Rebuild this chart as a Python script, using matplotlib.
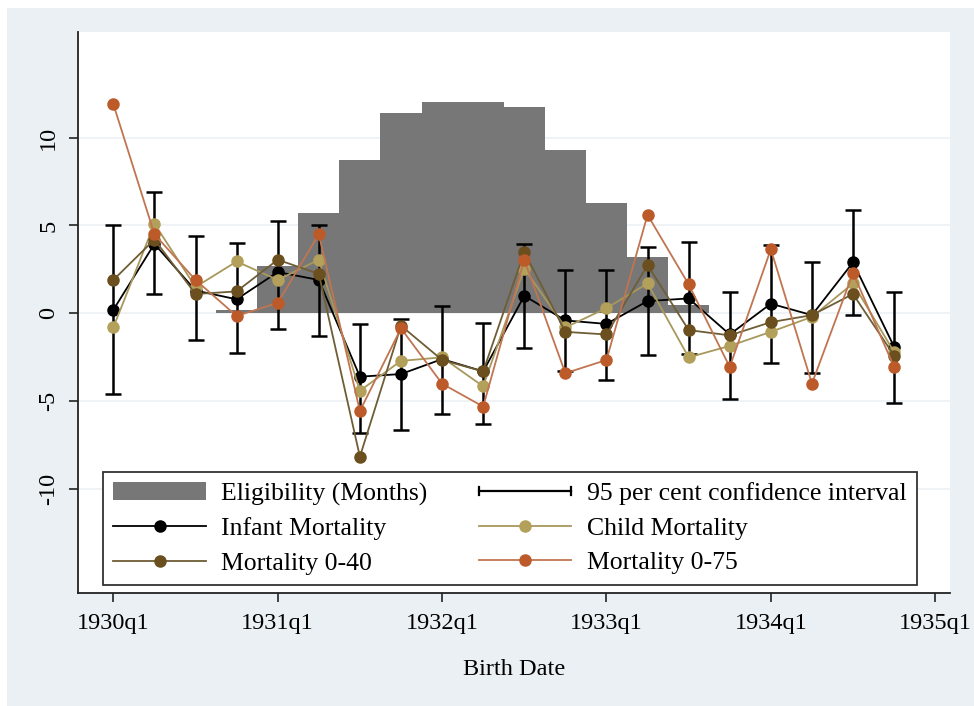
import matplotlib
matplotlib.use("Agg")
import matplotlib.pyplot as plt
from matplotlib.patches import Rectangle
from matplotlib.lines import Line2D
from matplotlib.legend_handler import HandlerBase
import numpy as np

# ---- data (quarters 1930q1 .. 1934q4) ----
quarters = ['1930q1', '1930q2', '1930q3', '1930q4', '1931q1', '1931q2', '1931q3', '1931q4',
            '1932q1', '1932q2', '1932q3', '1932q4', '1933q1', '1933q2', '1933q3', '1933q4',
            '1934q1', '1934q2', '1934q3', '1934q4']
eligibility = [0, 0, 0, 0.2, 2.7, 5.7, 8.7, 11.4, 12.0, 12.0, 11.75, 9.3, 6.25, 3.2, 0.45,
               0, 0, 0, 0, 0]
infant = [0.2, 3.95, 1.3, 0.8, 2.35, 1.9, -3.6, -3.45, -2.6, -3.3, 1.0, -0.4, -0.6, 0.7,
          0.85, -1.2, 0.55, -0.1, 2.9, -1.9]
child = [-0.8, 5.1, 1.5, 2.95, 1.9, 3.05, -4.4, -2.7, -2.5, -4.15, 2.55, -0.8, 0.3, 1.7,
         -2.5, -1.85, -1.05, -0.2, 1.7, -2.2]
mort040 = [1.9, 4.2, 1.1, 1.25, 3.05, 2.25, -8.15, -0.7, -2.65, -3.3, 3.5, -1.05, -1.2, 2.75,
           -0.95, -1.25, -0.5, -0.1, 1.1, -2.4]
mort075 = [11.9, 4.5, 1.9, -0.15, 0.6, 4.5, -5.55, -0.85, -4.0, -5.3, 3.05, -3.4, -2.65, 5.6,
           1.65, -3.05, 3.65, -4.0, 2.3, -3.05]
ci_low = [-4.6, 1.1, -1.5, -2.25, -0.9, -1.27, -6.8, -6.65, -5.7, -6.3, -1.97, -3.3, -3.77,
          -2.35, -2.3, -4.85, -2.82, -3.39, -0.07, -5.1]
ci_high = [5.0, 6.9, 4.4, 4.0, 5.25, 5.0, -0.63, -0.32, 0.42, -0.53, 3.96, 2.44, 2.48, 3.75,
           4.05, 1.21, 3.9, 2.92, 5.9, 1.21]
xtick_labels = ['1930q1', '1931q1', '1932q1', '1933q1', '1934q1', '1935q1']
ytick_values = [-10, -5, 0, 5, 10]

plt.rcParams['font.family'] = ['Liberation Serif', 'DejaVu Serif']

BG = '#eaf0f3'
W, H = 974, 706
fig = plt.figure(figsize=(W / 100, H / 100), dpi=100)
fig.patch.set_facecolor('white')
fig.patches.append(Rectangle((7 / W, 0), 1, 1 - 8 / H, transform=fig.transFigure,
                             facecolor=BG, edgecolor='none', zorder=-10))

ax = fig.add_axes([78 / W, 1 - 593 / H, (950 - 78) / W, (593 - 32) / H])
ax.set_facecolor('white')

x = np.arange(len(quarters))

bars = ax.bar(x, eligibility, width=1.0, color='#777777', edgecolor='none', zorder=2,
              label='Eligibility (Months)')

ci_mid = (np.array(ci_low) + np.array(ci_high)) / 2
ci_err = [ci_mid - np.array(ci_low), np.array(ci_high) - ci_mid]
eb = ax.errorbar(x, ci_mid, yerr=ci_err, fmt='none', ecolor='black', elinewidth=1.8,
                 capsize=5.5, capthick=1.8, zorder=3)

ms = 8
l1, = ax.plot(x, infant, '-o', color='black', mfc='black', mec='black', lw=1.3, ms=ms,
              zorder=4, label='Infant Mortality')
l2, = ax.plot(x, child, '-o', color='#a8985c', mfc='#b3a05a', mec='#b3a05a', lw=1.3, ms=ms,
              zorder=5, label='Child Mortality')
l3, = ax.plot(x, mort040, '-o', color='#6f5d35', mfc='#6b4f1e', mec='#6b4f1e', lw=1.3, ms=ms,
              zorder=6, label='Mortality 0-40')
l4, = ax.plot(x, mort075, '-o', color='#c07550', mfc='#bd5a2a', mec='#bd5a2a', lw=1.3, ms=ms,
              zorder=7, label='Mortality 0-75')

ax.set_xlim(-0.86, 20.36)
ax.set_ylim(-15.9, 16.0)
ax.set_xticks(np.arange(0, 21, 4))
ax.set_xticklabels(xtick_labels)
ax.set_yticks(ytick_values)
ax.set_yticklabels([str(v) for v in ytick_values], rotation=90, va='center')
ax.yaxis.grid(True, color='#edf1f3', lw=1.2, zorder=0)
ax.set_axisbelow(True)

for s in ['top', 'right']:
    ax.spines[s].set_visible(False)
for s in ['left', 'bottom']:
    ax.spines[s].set_linewidth(1.3)
    ax.spines[s].set_color('#222222')
ax.tick_params(axis='both', length=6.5, width=1.2, color='#222222', labelsize=17.5)
ax.tick_params(axis='y', pad=7)
ax.tick_params(axis='x', pad=8)

ax.set_xlabel('Birth Date', fontsize=17.5, labelpad=18)


class CIHandle:
    pass


class HandlerHCap(HandlerBase):
    def create_artists(self, legend, orig_handle, xdescent, ydescent, width, height,
                       fontsize, trans):
        y = height / 2 - ydescent
        x0, x1 = -xdescent, width - xdescent
        h = 0.22 * height
        arts = [Line2D([x0, x1], [y, y], color='black', lw=1.6),
                Line2D([x0, x0], [y - h, y + h], color='black', lw=1.6),
                Line2D([x1, x1], [y - h, y + h], color='black', lw=1.6)]
        for a in arts:
            a.set_transform(trans)
        return arts


ci_handle = CIHandle()
handles = [bars, l1, l3, ci_handle, l2, l4]
labels = ['Eligibility (Months)', 'Infant Mortality', 'Mortality 0-40',
          '95 per cent confidence interval', 'Child Mortality', 'Mortality 0-75']
leg = ax.legend(handles, labels, ncol=2, loc='lower left',
                bbox_to_anchor=(0.0287, 0.0143), borderaxespad=0, fontsize=18.5,
                handlelength=3.6, handletextpad=0.6, labelspacing=0.45, columnspacing=2.0,
                fancybox=False, framealpha=1, edgecolor='#333333', borderpad=0.4,
                handler_map={CIHandle: HandlerHCap()})
leg.get_frame().set_linewidth(1.3)
leg.set_zorder(10)

fig.savefig('out.png', dpi=100, facecolor=fig.get_facecolor())
